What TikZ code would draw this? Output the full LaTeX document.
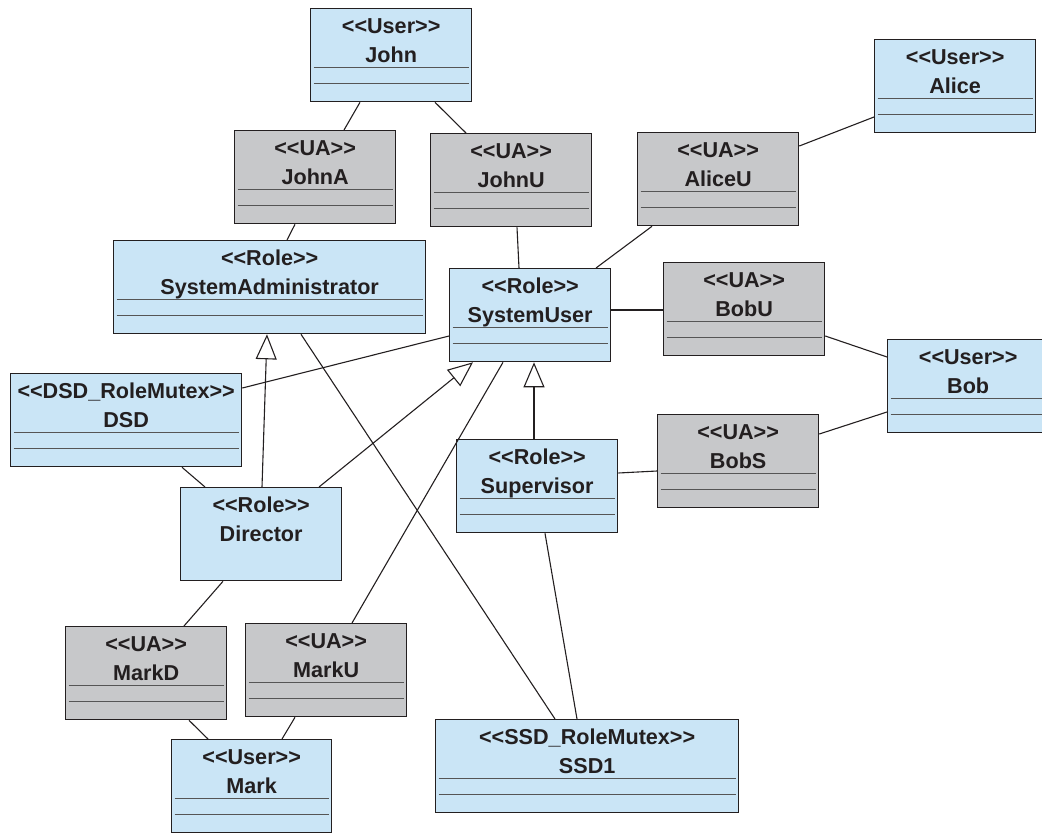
\documentclass[tikz,border=0pt]{standalone}
\usepackage{fontspec}
\newfontfamily\umlfont{Liberation Sans}
\usetikzlibrary{arrows.meta}
\definecolor{roleblue}{RGB}{202,229,246}
\definecolor{uagray}{RGB}{199,200,202}
\definecolor{edgeline}{RGB}{35,31,32}
\definecolor{sepline}{RGB}{85,85,85}
\newcommand{\stereo}[2]{<<#1>>\\#2}

\begin{document}
\begin{tikzpicture}[x=1pt,y=-1pt,
        box/.style={draw=edgeline, line width=1.3pt, fill=roleblue, text=edgeline, anchor=north west,
            minimum width=161pt, inner sep=0pt, text height=54pt, text depth=39pt,
            align=center, font=\umlfont\bfseries\fontsize{21.6}{29}\selectfont},
        cls/.style={box, path picture={
            \draw[sepline, line width=0.9pt] ([xshift=3pt,yshift=-59pt]path picture bounding box.north west) -- ([xshift=-3pt,yshift=-59pt]path picture bounding box.north east);
            \draw[sepline, line width=0.9pt] ([xshift=3pt,yshift=-75pt]path picture bounding box.north west) -- ([xshift=-3pt,yshift=-75pt]path picture bounding box.north east);}},
        ua/.style={cls, fill=uagray},
        link/.style={edgeline, line width=1.1pt},
        isa/.style={link, -{Triangle[open, length=25pt, width=21pt]}}]
        \useasboundingbox (0,0) rectangle (1042,833);
        \node[cls] (John) at (310,8) {\stereo{User}{John}};
        \node[ua] (JohnA) at (234,130) {\stereo{UA}{JohnA}};
        \node[ua] (JohnU) at (430,133) {\stereo{UA}{JohnU}};
        \node[ua] (AliceU) at (637,132) {\stereo{UA}{AliceU}};
        \node[cls] (Alice) at (874,39) {\stereo{User}{Alice}};
        \node[cls, minimum width=312pt] (SysAdmin) at (113,240) {\stereo{Role}{SystemAdministrator}};
        \node[cls] (SysUser) at (449,268) {\stereo{Role}{SystemUser}};
        \node[ua] (BobU) at (663,262) {\stereo{UA}{BobU}};
        \node[cls] (Bob) at (887,339) {\stereo{User}{Bob}};
        \node[cls, minimum width=231pt] (DSD) at (10,373) {\stereo{DSD\_RoleMutex}{DSD}};
        \node[box] (Director) at (180,487) {\stereo{Role}{Director}};
        \node[cls] (Supervisor) at (456,439) {\stereo{Role}{Supervisor}};
        \node[ua] (BobS) at (657,414) {\stereo{UA}{BobS}};
        \node[ua] (MarkD) at (65,626) {\stereo{UA}{MarkD}};
        \node[ua] (MarkU) at (245,623) {\stereo{UA}{MarkU}};
        \node[cls, minimum width=160pt] (Mark) at (171,739) {\stereo{User}{Mark}};
        \node[cls, minimum width=303pt] (SSD1) at (435,719) {\stereo{SSD\_RoleMutex}{SSD1}};

        \draw[link] ([xshift=50pt]John.south west) -- ([xshift=110pt]JohnA.north west);
        \draw[link] ([xshift=125pt]John.south west) -- ([xshift=36pt]JohnU.north west);
        \draw[link] ([xshift=61pt]JohnA.south west) -- ([xshift=174pt]SysAdmin.north west);
        \draw[link] ([xshift=87pt]JohnU.south west) -- ([xshift=70pt]SysUser.north west);
        \draw[link] ([xshift=15pt]AliceU.south west) -- ([xshift=147pt]SysUser.north west);
        \draw[link] ([yshift=-14pt]AliceU.north east) -- ([yshift=-78pt]Alice.north west);
        \draw[link] ([yshift=-42pt]SysUser.north east) -- ([yshift=-48pt]BobU.north west);
        \draw[link] ([yshift=-74pt]BobU.north east) -- ([yshift=-18pt]Bob.north west);
        \draw[link] ([yshift=-20pt]BobS.north east) -- ([yshift=-73pt]Bob.north west);
        \draw[link] ([yshift=-34pt]Supervisor.north east) -- ([yshift=-57pt]BobS.north west);
        \draw[isa] ([xshift=78pt]Supervisor.north west) -- ([xshift=85pt]SysUser.south west);
        \draw[link] ([xshift=89pt]Supervisor.south west) -- ([xshift=142pt]SSD1.north west);
        \draw[link] ([xshift=188pt]SysAdmin.south west) -- ([xshift=120pt]SSD1.north west);
        \draw[link] ([xshift=107pt]MarkU.north west) -- ([xshift=54pt]SysUser.south west);
        \draw[link] ([yshift=-15pt]DSD.north east) -- ([yshift=-68pt]SysUser.north west);
        \draw[isa] ([xshift=82pt]Director.north west) -- ([xshift=154pt]SysAdmin.south west);
        \draw[isa] ([xshift=139pt]Director.north west) -- ([xshift=24pt]SysUser.south west);
        \draw[link] ([xshift=172pt]DSD.south west) -- ([xshift=25pt]Director.north west);
        \draw[link] ([xshift=43pt]Director.south west) -- ([xshift=119pt]MarkD.north west);
        \draw[link] ([xshift=124pt]MarkD.south west) -- ([xshift=37pt]Mark.north west);
        \draw[link] ([xshift=50pt]MarkU.south west) -- ([xshift=111pt]Mark.north west);
\end{tikzpicture}
\end{document}
